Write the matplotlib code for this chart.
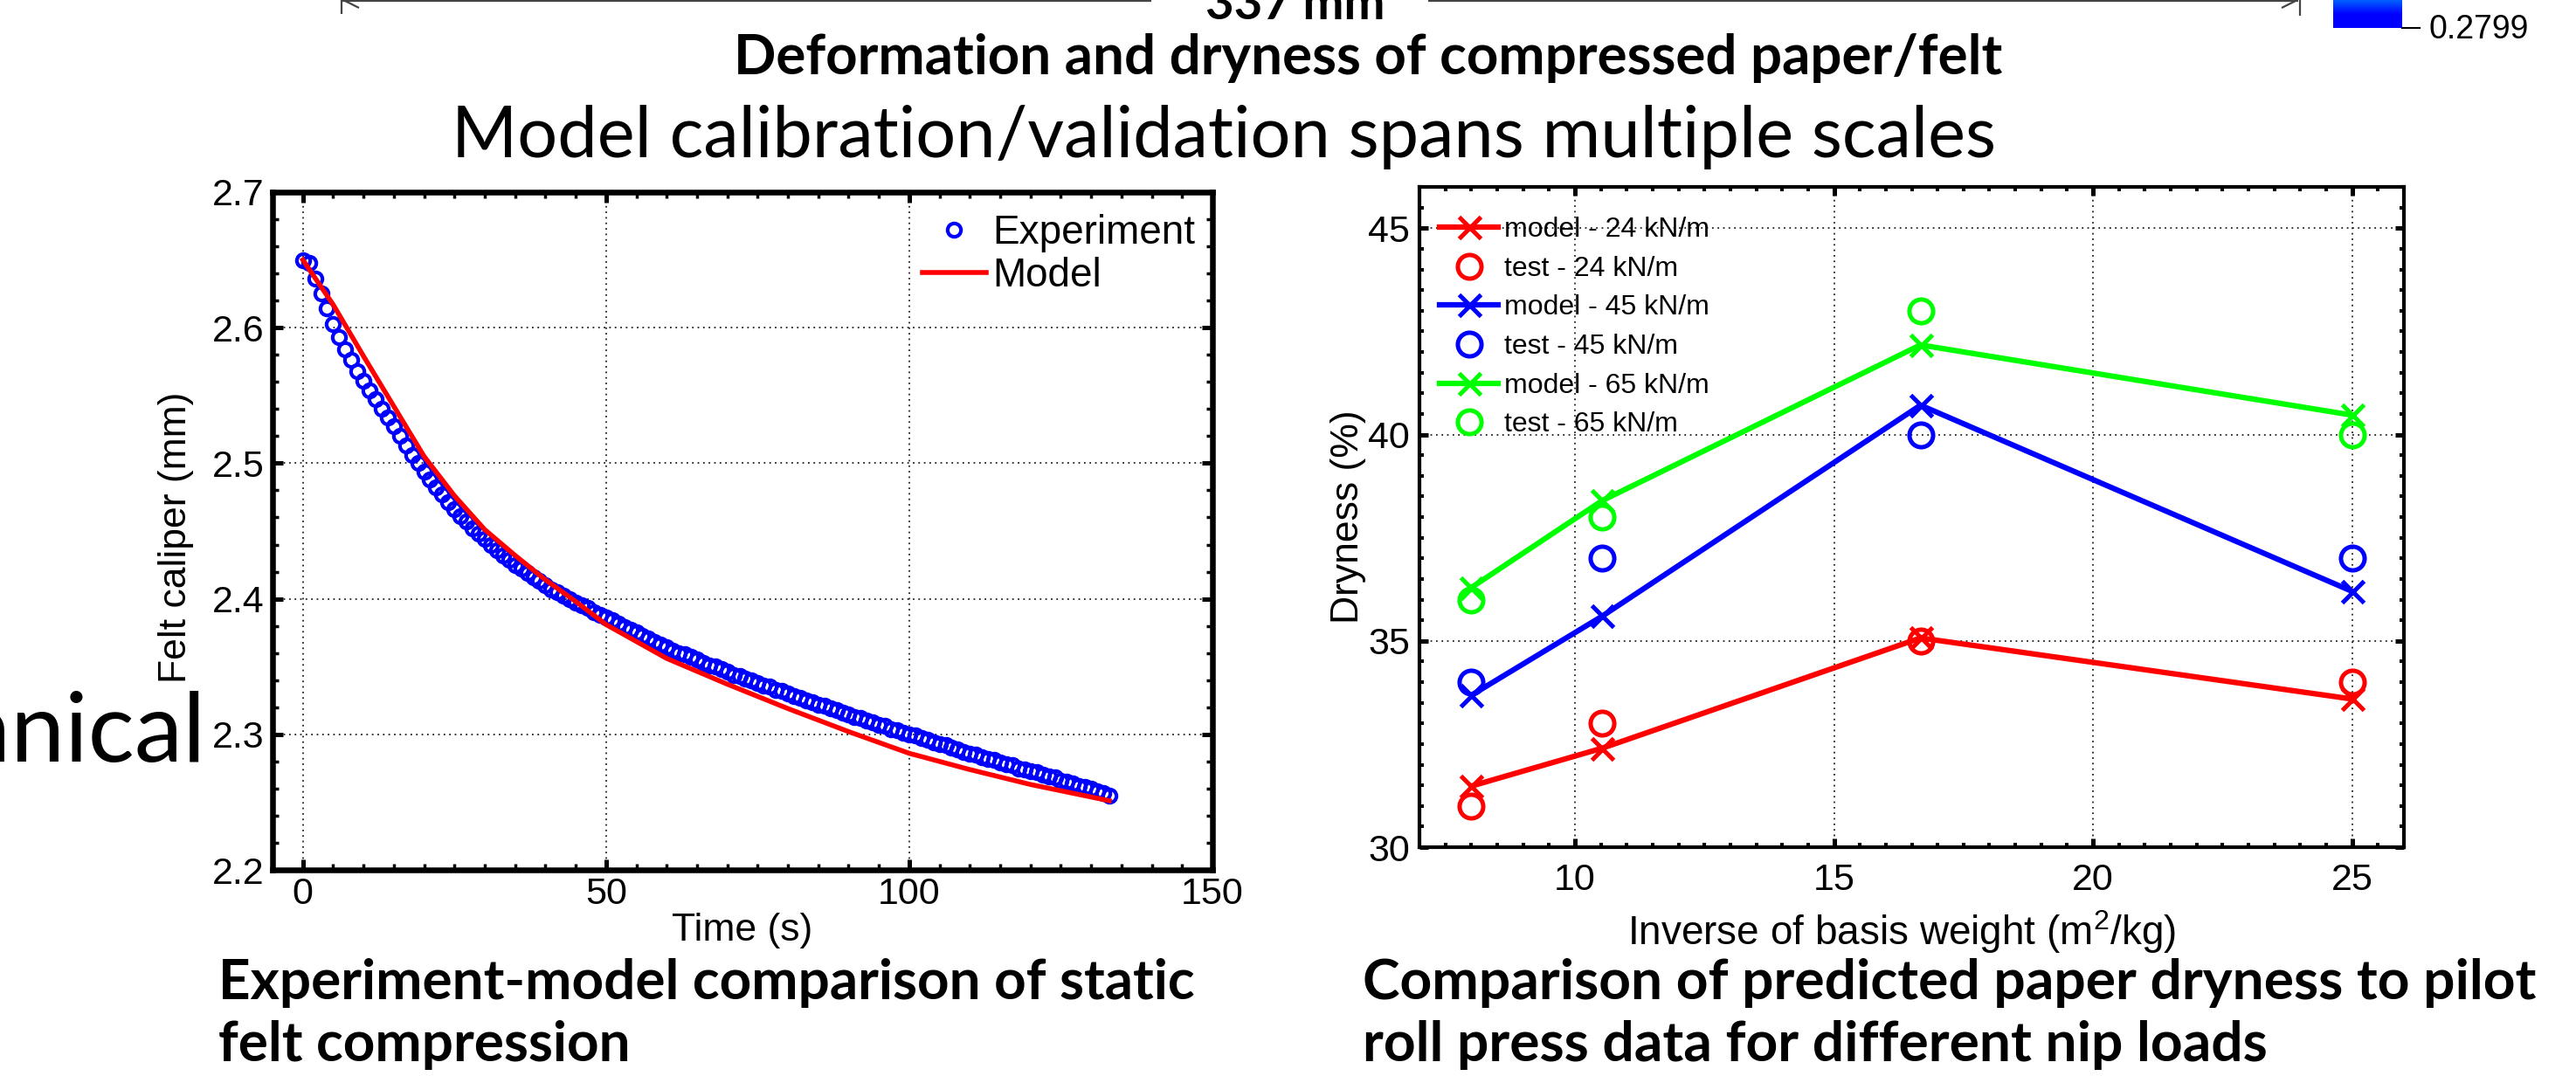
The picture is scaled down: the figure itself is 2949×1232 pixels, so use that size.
import numpy as np
import matplotlib
matplotlib.use("Agg")
import matplotlib.pyplot as plt
from matplotlib.ticker import MultipleLocator, FixedLocator
from matplotlib.lines import Line2D
from matplotlib.colors import LinearSegmentedColormap

# ---------------- data ----------------
exp_time = list(range(0, 134))
exp_caliper = [
    2.650, 2.648, 2.636, 2.625, 2.614, 2.603, 2.593, 2.584, 2.576, 2.568,
    2.561, 2.554, 2.547, 2.540, 2.534, 2.527, 2.520, 2.513, 2.506, 2.500,
    2.494, 2.488, 2.482, 2.477, 2.471, 2.466, 2.461, 2.457, 2.452, 2.448,
    2.444, 2.440, 2.436, 2.432, 2.429, 2.425, 2.422, 2.419, 2.416, 2.413,
    2.410, 2.407, 2.405, 2.402, 2.400, 2.397, 2.395, 2.393, 2.390, 2.388,
    2.386, 2.384, 2.382, 2.379, 2.377, 2.375, 2.373, 2.371, 2.368, 2.366,
    2.364, 2.362, 2.360, 2.359, 2.357, 2.355, 2.353, 2.351, 2.350, 2.348,
    2.346, 2.344, 2.343, 2.341, 2.340, 2.338, 2.336, 2.335, 2.333, 2.332,
    2.330, 2.328, 2.327, 2.325, 2.324, 2.322, 2.321, 2.319, 2.318, 2.316,
    2.315, 2.313, 2.312, 2.310, 2.309, 2.307, 2.306, 2.304, 2.303, 2.301,
    2.300, 2.299, 2.297, 2.296, 2.294, 2.293, 2.292, 2.290, 2.289, 2.287,
    2.286, 2.285, 2.283, 2.282, 2.281, 2.279, 2.278, 2.277, 2.275, 2.274,
    2.273, 2.272, 2.270, 2.269, 2.268, 2.266, 2.265, 2.264, 2.262, 2.261,
    2.260, 2.258, 2.257, 2.255,
]
model_time = [0, 5, 10, 15, 20, 25, 30, 35, 40, 45, 50, 60, 70, 80, 90, 100, 110, 120, 133]
model_caliper = [2.650, 2.617, 2.579, 2.542, 2.505, 2.476, 2.451, 2.432, 2.414, 2.398,
                 2.381, 2.356, 2.337, 2.319, 2.302, 2.286, 2.274, 2.263, 2.251]
left_xticks = [0, 50, 100, 150]
left_yticks = [2.2, 2.3, 2.4, 2.5, 2.6, 2.7]

inv_basis_weight = [8.0, 10.53, 16.67, 25.0]
model_24 = [31.48, 32.40, 35.07, 33.59]
test_24 = [31.0, 33.0, 35.0, 34.0]
model_45 = [33.68, 35.60, 40.71, 36.20]
test_45 = [34.0, 37.0, 40.0, 37.0]
model_65 = [36.29, 38.40, 42.17, 40.47]
test_65 = [36.0, 38.0, 43.0, 40.0]
right_xticks = [10, 15, 20, 25]
right_yticks = [30, 35, 40, 45]

colorbar_label = "0.2799"
dimension_label = "337 mm"

# ---------------- figure ----------------
W, H = 2949, 1232
plt.rcParams['font.family'] = ['Liberation Sans', 'DejaVu Sans']
plt.rcParams['mathtext.fontset'] = 'custom'
plt.rcParams['mathtext.rm'] = 'Liberation Sans'
fig = plt.figure(figsize=(W / 100, H / 100), dpi=100)
fig.patch.set_facecolor('white')
renderer = fig.canvas.get_renderer()

def fx(x):
    return x / W

def fy(y):
    return 1 - y / H

def style_axes(ax, spine_lw, maj_len, min_len, maj_w, min_w):
    for s in ax.spines.values():
        s.set_linewidth(spine_lw)
        s.set_color('black')
    ax.tick_params(which='both', direction='in', top=True, right=True, colors='black')
    ax.tick_params(which='major', length=maj_len, width=maj_w, labelsize=31)
    ax.tick_params(which='minor', length=min_len, width=min_w)
    ax.grid(True, which='major', linestyle=(0, (1, 2.5)), color='#222222', linewidth=1.3)

# ---------- left axes ----------
ax1 = fig.add_axes([fx(312), fy(996), (1388 - 312) / W, (996 - 220) / H])
ax1.plot(exp_time, exp_caliper, linestyle='none', marker='o', markersize=11,
         markerfacecolor='none', markeredgecolor='#0000ff', markeredgewidth=3.0,
         label='Experiment', zorder=3)
ax1.plot(model_time, model_caliper, color='#ff0000', linewidth=4, label='Model', zorder=4)
ax1.set_xlim(-5, 150)
ax1.set_ylim(2.2, 2.7)
ax1.xaxis.set_major_locator(FixedLocator(left_xticks))
ax1.yaxis.set_major_locator(FixedLocator(left_yticks))
ax1.xaxis.set_minor_locator(MultipleLocator(5))
ax1.yaxis.set_minor_locator(MultipleLocator(0.02))
ax1.set_xticklabels([str(v) for v in left_xticks])
ax1.set_yticklabels([f"{v:.1f}" for v in left_yticks])
style_axes(ax1, 4.7, 8.3, 4.7, 3.6, 2.5)
ax1.tick_params(axis='x', pad=6)
ax1.tick_params(axis='y', pad=7)
ax1.set_xlabel('Time (s)', fontsize=32)
ax1.set_ylabel('Felt caliper (mm)', fontsize=32)
ax1.xaxis.label.set_va('center')
ax1.yaxis.label.set_va('center')
ax1.xaxis.set_label_coords(0.5, (996 - 1065) / 776)
ax1.yaxis.set_label_coords((201 - 312) / 1076, 0.49)
ax1.legend(loc='upper right', bbox_to_anchor=(0.982, 0.968), frameon=False, fontsize=33,
           handlelength=1.6, handletextpad=0.17, labelspacing=0.12, borderpad=0,
           borderaxespad=0, numpoints=1)

# ---------- right axes ----------
ax2 = fig.add_axes([fx(1625), fy(970), (2752 - 1625) / W, (970 - 214) / H])
series = [
    (model_24, test_24, '#ff0000', '24'),
    (model_45, test_45, '#0000ff', '45'),
    (model_65, test_65, '#00ff00', '65'),
]
for model_vals, test_vals, col, load in series:
    ax2.plot(inv_basis_weight, model_vals, color=col, linewidth=4.5, marker='x',
             markersize=18, markeredgewidth=3.6, label=f'model - {load} kN/m', zorder=3)
    ax2.plot(inv_basis_weight, test_vals, linestyle='none', marker='o', markersize=19.5,
             markerfacecolor='none', markeredgecolor=col, markeredgewidth=3.6,
             label=f'test - {load} kN/m', zorder=4)
ax2.set_xlim(7, 26)
ax2.set_ylim(30, 46)
ax2.xaxis.set_major_locator(FixedLocator(right_xticks))
ax2.yaxis.set_major_locator(FixedLocator(right_yticks))
ax2.xaxis.set_minor_locator(MultipleLocator(0.5))
ax2.yaxis.set_minor_locator(MultipleLocator(0.5))
ax2.set_xticklabels([str(v) for v in right_xticks])
ax2.set_yticklabels([str(v) for v in right_yticks])
style_axes(ax2, 3.0, 7.2, 3.6, 3.6, 2.9)
ax2.tick_params(axis='x', pad=13)
ax2.tick_params(axis='y', pad=8)
ax2.set_xlabel('Inverse of basis weight (m$^{\\mathregular{2}}$/kg)', fontsize=33)
ax2.set_ylabel('Dryness (%)', fontsize=32)
ax2.xaxis.label.set_va('center')
ax2.yaxis.label.set_va('center')
ax2.xaxis.set_label_coords(0.49, (970 - 1067) / 756)
ax2.yaxis.set_label_coords((1543 - 1625) / 1127, 0.5)
ax2.legend(loc='upper left', bbox_to_anchor=(0.0204, 0.955), frameon=False, fontsize=23,
           handlelength=2.1, handletextpad=0.22, labelspacing=0.46, borderpad=0,
           borderaxespad=0, numpoints=1)

# ---------- slide text (Myriad-like) ----------
SLIDE_FONT = ['Lato', 'Open Sans', 'DejaVu Sans']

def fit_text(x, y, s, width, weight='normal', ha='center', fs0=40):
    t = fig.text(fx(x), fy(y), s, fontsize=fs0, fontweight=weight, family=SLIDE_FONT,
                 ha=ha, va='baseline')
    bb = t.get_window_extent(renderer=renderer)
    t.set_fontsize(fs0 * width / bb.width)
    return t

fit_text(1566, 85, 'Deformation and dryness of compressed paper/felt', 1450, weight='bold')
fit_text(1401, 180, 'Model calibration/validation spans multiple scales', 1768)
fit_text(1483, 22, dimension_label, 206, weight='bold')

c1 = fit_text(250, 1144, 'Experiment-model comparison of static', 1117, weight='bold', ha='left')
fig.text(fx(250), fy(1215), 'felt compression', fontsize=c1.get_fontsize(),
         fontweight='bold', family=SLIDE_FONT, ha='left', va='baseline')
c2 = fit_text(1560, 1144, 'Comparison of predicted paper dryness to pilot', 1344, weight='bold', ha='left')
fig.text(fx(1560), fy(1215), 'roll press data for different nip loads', fontsize=c2.get_fontsize(),
         fontweight='bold', family=SLIDE_FONT, ha='left', va='baseline')

fig.text(fx(236), fy(872), 'Mechanical', fontsize=80, family=SLIDE_FONT, ha='right', va='baseline')

# ---------- dimension line at top ----------
dim_kw = dict(transform=fig.transFigure, color='#444444', linewidth=1.6, solid_capstyle='butt')
fig.add_artist(Line2D([fx(391), fx(1318)], [fy(1), fy(1)], **dim_kw))
fig.add_artist(Line2D([fx(1635), fx(2631)], [fy(1), fy(1)], **dim_kw))
fig.add_artist(Line2D([fx(391), fx(391)], [fy(0), fy(16)], **dim_kw))
fig.add_artist(Line2D([fx(2633), fx(2633)], [fy(0), fy(18)], **dim_kw))
fig.add_artist(Line2D([fx(393), fx(411)], [fy(0), fy(9)], **dim_kw))
fig.add_artist(Line2D([fx(2630), fx(2612)], [fy(0), fy(9)], **dim_kw))

# ---------- colorbar fragment ----------
cax = fig.add_axes([fx(2671), fy(32), (2750 - 2671) / W, 32 / H])
cmap = LinearSegmentedColormap.from_list('cb', ['#0000ff', '#0000ff', '#0060ff'])
cax.imshow(np.linspace(0, 1, 64).reshape(-1, 1), aspect='auto', cmap=cmap, origin='lower',
           extent=[0, 1, 0, 1])
cax.set_axis_off()
fig.add_artist(Line2D([fx(2750), fx(2770)], [fy(32), fy(32)], transform=fig.transFigure,
                      color='black', linewidth=1.5))
fig.text(fx(2780), fy(34), colorbar_label, fontsize=27, ha='left', va='center')

fig.savefig('out.png', dpi=100, facecolor='white')
